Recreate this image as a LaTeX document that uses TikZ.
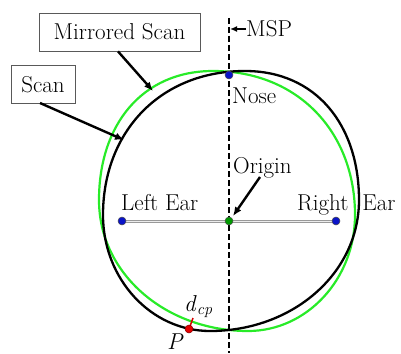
\documentclass[tikz,border=0pt]{standalone}
\usetikzlibrary{arrows.meta}
\definecolor{mirrorgreen}{RGB}{40,235,40}
\definecolor{eardot}{RGB}{10,20,200}
\newcommand\headoutline{(245,71) .. controls (316,71) and (359,125) .. (359,200)
  .. controls (359,274) and (292,331) .. (210,331)
  .. controls (151,331) and (103,279) .. (103,215)
  .. controls (103,132) and (160,71) .. (245,71) -- cycle}

\begin{document}
\begin{tikzpicture}[
    x=1pt, y=-1pt,
    font=\fontsize{23}{27}\selectfont,
    tag/.style={rectangle, draw=black!65, line width=0.8pt, fill=white, inner sep=0pt, minimum height=38pt},
    txt/.style={inner sep=0pt, anchor=base west},
    arrow/.style={-{Latex[length=9pt,width=7.5pt]}, line width=2.4pt},
    dot/.style={circle, draw=black!70, line width=0.5pt, inner sep=0pt, minimum size=8pt}
]
\useasboundingbox (0,0) rectangle (401,353);

% mirror plane
\coordinate (msptop) at (229,18);
\coordinate (mspbot) at (229,353);

% scan and its mirror image about the MSP (x = 229)
\begin{scope}[xshift=458pt, xscale=-1]
  \draw[mirrorgreen, line width=2.2pt] \headoutline;
\end{scope}
\draw[black, line width=2.3pt] \headoutline;

\draw[line width=2pt, dash pattern=on 6pt off 3pt] (msptop) -- (mspbot);

% landmarks
\coordinate (nose) at (229,75);
\coordinate (lear) at (122,221);
\coordinate (rear) at (336,221);
\coordinate (origin) at (229,221);
\coordinate (p) at (189,329);
\coordinate (dcpend) at (193,318);
\coordinate (mirrortip) at (153,91);
\coordinate (scantip) at (124,140);
\coordinate (msptip) at (230,29);
\coordinate (origintip) at (233,216);

\draw[draw=gray!80, line width=3pt] (lear) -- (rear);
\draw[draw=gray!15, line width=1pt] (lear) -- (rear);
\draw[red!85!black, line width=1.5pt] (p) -- (dcpend);

\node[dot, fill=eardot] (nosedot) at (nose) {};
\node[dot, fill=eardot] (leardot) at (lear) {};
\node[dot, fill=eardot] (reardot) at (rear) {};
\node[dot, fill=green!60!black] (origindot) at (origin) {};
\node[dot, fill=red!90!black, draw=red!50!black] (pdot) at (p) {};

% labels
\node[tag, minimum width=161pt] (mirror) at (119.5,32) {Mirrored Scan};
\node[tag, minimum width=64pt] (scan) at (43,84.5) {Scan};
\node[txt] (msp) at (246,37) {MSP};
\node[txt] (nosetxt) at (232,103) {Nose};
\node[txt] (origintxt) at (233,173) {Origin};
\node[txt] (leartxt) at (121,210) {Left Ear};
\node[txt] (reartxt) at (297,210) {Right\ \ Ear};
\node[txt] (dcp) at (184,311) {\textit{d}\textsubscript{\textit{cp}}};
\node[txt] (ptxt) at (167,349) {\textit{P}};

\draw[arrow] (mirror.south -| 118,0) -- (mirrortip);
\draw[arrow] (40,103) -- (scantip);
\draw[arrow, line width=1.8pt, -{Latex[length=7pt,width=6pt]}] (msp.west |- 0,29) -- (msptip);
\draw[arrow] (260,177) -- (origintip);
\end{tikzpicture}
\end{document}
